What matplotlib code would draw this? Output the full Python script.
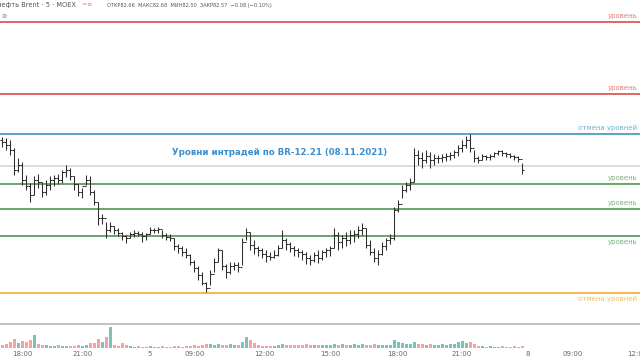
"""Intraday levels chart for BR-12.21 (5 min, MOEX) - TradingView style snapshot."""
import matplotlib
import numpy as np

matplotlib.use("Agg")
import matplotlib.pyplot as plt
from matplotlib.lines import Line2D

# OHLC per bar (open taken from the previous close)
HIGH = [83.10, 83.09, 83.05, 82.92, 82.76, 82.70, 82.49, 82.36, 82.47, 82.51,
        82.38, 82.41, 82.47, 82.49, 82.51, 82.57, 82.65, 82.60, 82.47, 82.34,
        82.28, 82.49, 82.47, 82.25, 82.05, 81.86, 81.73, 81.73, 81.67, 81.63,
        81.57, 81.52, 81.57, 81.60, 81.59, 81.57, 81.55, 81.65, 81.63, 81.65,
        81.60, 81.55, 81.54, 81.47, 81.38, 81.34, 81.31, 81.22, 81.12, 81.02,
        80.92, 80.76, 80.96, 81.15, 81.31, 81.28, 81.05, 81.09, 81.09, 81.09,
        81.47, 81.63, 81.57, 81.44, 81.34, 81.31, 81.28, 81.25, 81.28, 81.36,
        81.60, 81.47, 81.41, 81.34, 81.31, 81.28, 81.25, 81.20, 81.25, 81.28,
        81.28, 81.31, 81.34, 81.63, 81.57, 81.52, 81.57, 81.60, 81.60, 81.67,
        81.72, 81.63, 81.44, 81.31, 81.28, 81.41, 81.47, 81.54, 81.97, 82.09,
        82.33, 82.38, 82.44, 82.92, 82.89, 82.86, 82.89, 82.86, 82.83, 82.81,
        82.83, 82.84, 82.86, 82.89, 82.97, 83.05, 83.12, 83.15, 82.89, 82.80,
        82.83, 82.81, 82.83, 82.86, 82.89, 82.89, 82.86, 82.84, 82.81, 82.80,
        82.68]
LOW = [82.94, 82.89, 82.81, 82.49, 82.54, 82.33, 82.25, 82.05, 82.17, 82.28,
       82.13, 82.17, 82.25, 82.31, 82.34, 82.36, 82.46, 82.41, 82.25, 82.15,
       82.12, 82.33, 82.17, 82.01, 81.68, 81.70, 81.47, 81.57, 81.54, 81.51,
       81.44, 81.39, 81.47, 81.49, 81.51, 81.41, 81.44, 81.54, 81.55, 81.55,
       81.47, 81.44, 81.42, 81.28, 81.23, 81.18, 81.15, 81.04, 80.92, 80.80,
       80.72, 80.60, 80.72, 80.92, 81.09, 80.96, 80.83, 80.89, 80.96, 80.92,
       81.04, 81.44, 81.28, 81.22, 81.18, 81.15, 81.09, 81.12, 81.15, 81.18,
       81.31, 81.28, 81.25, 81.18, 81.17, 81.12, 81.05, 81.04, 81.09, 81.07,
       81.12, 81.17, 81.18, 81.31, 81.28, 81.31, 81.34, 81.38, 81.41, 81.47,
       81.52, 81.31, 81.20, 81.09, 81.04, 81.20, 81.28, 81.38, 81.44, 81.89,
       82.12, 82.22, 82.25, 82.38, 82.65, 82.60, 82.68, 82.60, 82.65, 82.68,
       82.70, 82.72, 82.73, 82.76, 82.80, 82.86, 82.92, 82.86, 82.70, 82.68,
       82.73, 82.73, 82.73, 82.78, 82.81, 82.80, 82.78, 82.76, 82.73, 82.70,
       82.50]
CLOSE = [83.02, 82.97, 82.89, 82.57, 82.65, 82.41, 82.31, 82.17, 82.41, 82.38,
         82.22, 82.33, 82.41, 82.44, 82.41, 82.54, 82.57, 82.47, 82.34, 82.22,
         82.31, 82.41, 82.22, 82.05, 81.80, 81.80, 81.60, 81.67, 81.60, 81.55,
         81.51, 81.47, 81.54, 81.55, 81.54, 81.51, 81.54, 81.60, 81.60, 81.62,
         81.52, 81.49, 81.47, 81.34, 81.31, 81.25, 81.20, 81.09, 80.99, 80.88,
         80.75, 80.67, 80.89, 81.09, 81.28, 81.02, 80.92, 81.02, 81.04, 81.01,
         81.41, 81.57, 81.36, 81.31, 81.28, 81.22, 81.18, 81.17, 81.20, 81.31,
         81.44, 81.38, 81.31, 81.28, 81.25, 81.22, 81.15, 81.12, 81.20, 81.15,
         81.25, 81.28, 81.31, 81.52, 81.41, 81.47, 81.44, 81.52, 81.54, 81.60,
         81.63, 81.36, 81.25, 81.15, 81.22, 81.34, 81.44, 81.47, 81.92, 82.02,
         82.25, 82.33, 82.38, 82.81, 82.76, 82.73, 82.80, 82.73, 82.76, 82.76,
         82.78, 82.80, 82.81, 82.86, 82.92, 82.97, 83.05, 82.92, 82.76, 82.73,
         82.80, 82.78, 82.80, 82.84, 82.88, 82.84, 82.83, 82.80, 82.78, 82.75,
         82.57]
FIRST_OPEN = 83.05
VOLUME = [3, 4, 6, 9, 5, 7, 6, 8, 14, 4,
          3, 3, 2, 2, 3, 2, 2, 2, 2, 3,
          2, 3, 5, 5, 9, 6, 12, 22, 3, 2,
          5, 3, 2, 1, 2, 1, 1, 2, 1, 1,
          2, 1, 1, 2, 2, 1, 2, 2, 3, 2,
          3, 4, 4, 3, 4, 3, 3, 4, 3, 3,
          6, 11, 8, 5, 3, 2, 2, 2, 2, 3,
          4, 3, 3, 3, 3, 3, 4, 3, 3, 3,
          3, 3, 3, 4, 3, 4, 3, 3, 4, 3,
          4, 3, 3, 4, 3, 3, 3, 3, 8, 6,
          5, 4, 4, 6, 4, 4, 3, 4, 3, 3,
          4, 3, 4, 4, 6, 7, 5, 6, 4, 2,
          2, 1, 2, 1, 1, 2, 1, 1, 2, 1,
          2]

LEVELS = [84.95, 83.80, 83.15, 81.94, 82.35, 81.50, 80.59]
LEVEL_LABELS = ["уровень", "уровень", "отмена уровней", "уровень", "уровень", "уровень", "отмена уровней"]
LEVEL_COLORS = ["#dc5a55", "#dc5a55", "#4f9cc4", "#5c9e5c", "#5c9e5c", "#5c9e5c", "#f0b43a"]
LEVEL_BELOW = [False, False, False, False, False, True, True]
PREV_CLOSE = 82.64

TICK_POS = [5.0, 20.25, 37.0, 48.25, 65.5, 82.0, 98.75, 115.0, 131.5, 142.75, 158.75]
TICK_LABELS = ["18:00", "21:00", "5", "09:00", "12:00", "15:00", "18:00", "21:00", "8", "09:00", "12:00"]


def main() -> None:
    high, low, close = map(np.asarray, (HIGH, LOW, CLOSE))
    opn = np.concatenate(([FIRST_OPEN], close[:-1]))
    x = np.arange(len(close))

    fig = plt.figure(figsize=(6.4, 3.6), dpi=100)
    ax = fig.add_axes([0, 38/360, 1, 322/360])
    vax = fig.add_axes([0, 12/360, 1, 22/360])
    for a in (ax, vax):
        a.set_xlim(-0.5, 159.5)
        for s in a.spines.values():
            s.set_visible(False)
        a.set_xticks([]); a.set_yticks([])
    ax.set_ylim(80.118, 85.312)

    ax.axhline(PREV_CLOSE, color="#d4d4d4", lw=1.1, zorder=1)
    for level, label, color, below in zip(LEVELS, LEVEL_LABELS, LEVEL_COLORS, LEVEL_BELOW):
        ax.axhline(level, color=color, lw=1.3, zorder=1)
        ax.annotate(label, (0.996, level), xycoords=("axes fraction", "data"),
                    xytext=(0, -6.5 if below else 2.2), textcoords="offset points",
                    ha="right", va="bottom", fontsize=5.0, color=color, alpha=0.8)

    ax.vlines(x, low, high, color="#2e2e2e", lw=0.75, zorder=3)
    ax.hlines(opn, x-0.4, x, color="#2e2e2e", lw=0.75, zorder=3)
    ax.hlines(close, x, x+0.4, color="#2e2e2e", lw=0.75, zorder=3)

    ax.text(0.4375, 82.86, "Уровни интрадей по BR-12.21 (08.11.2021)", transform=ax.get_yaxis_transform(),
            ha="center", va="center", fontsize=6.2, fontweight="bold", color="#3a8fd0")

    up = close >= opn
    vax.bar(x, VOLUME, width=0.75, color=np.where(up, "#7cc2ba", "#f2a3a3"), linewidth=0)
    vax.set_ylim(0, 23)
    fig.add_artist(Line2D([0, 1], [1-324/360, 1-324/360], color="#b8b8b8", lw=1.2))

    for pos, lab in zip(TICK_POS, TICK_LABELS):
        fig.text((pos+0.5)/160, 6/360, lab, ha="center", va="center", fontsize=5, color="#666666")

    fig.text(-0.004, 1-5/360, "нефть Brent · 5 · MOEX", ha="left", va="center", fontsize=4.8, color="#555555")
    fig.text(0.128, 1-5/360, "═ ≡", ha="left", va="center", fontsize=4.2, color="#ef8a8a")
    fig.text(0.167, 1-5/360, "ОТКР82.66  МАКС82.68  МИН82.50  ЗАКР82.57  −0.08 (−0.10%)",
             ha="left", va="center", fontsize=3.6, color="#555555")
    fig.text(0.003, 1-16/360, "⊘", ha="left", va="center", fontsize=4.5, color="#777777")

    fig.savefig("out.png", dpi=100)
    plt.close(fig)


if __name__ == "__main__":
    main()
